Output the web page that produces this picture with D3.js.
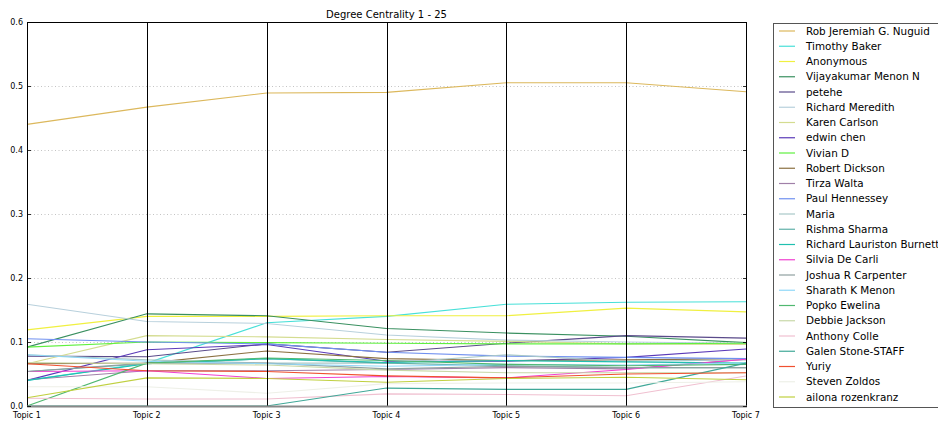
<!DOCTYPE html>
<html>
<head>
<meta charset="utf-8">
<script src="https://cdn.jsdelivr.net/npm/d3@7"></script>
<style>
  body { margin: 0; background: #fff; }
  text { font-family: 'DejaVu Sans', sans-serif; fill: #000; }
</style>
</head>
<body>
<div id="chart"></div>
<script>
let topics = ['Topic 1', 'Topic 2', 'Topic 3', 'Topic 4', 'Topic 5', 'Topic 6', 'Topic 7']

let names = [
  'Rob Jeremiah G. Nuguid', 'Timothy Baker', 'Anonymous', 'Vijayakumar Menon N',
  'petehe', 'Richard Meredith', 'Karen Carlson', 'edwin chen', 'Vivian D',
  'Robert Dickson', 'Tirza Walta', 'Paul Hennessey', 'Maria', 'Rishma Sharma',
  'Richard Lauriston Burnett', 'Silvia De Carli', 'Joshua R Carpenter',
  'Sharath K Menon', 'Popko Ewelina', 'Debbie Jackson', 'Anthony Colle',
  'Galen Stone-STAFF', 'Yuriy', 'Steven Zoldos', 'ailona rozenkranz'
]

let colors = [
  '#dcb85c', '#48e0d8', '#f0f040', '#3a9060', '#5a4a8a', '#b8d0dc', '#d4dc90',
  '#5a3ab8', '#60f040', '#8b7040', '#a080a8', '#7090f0', '#a8c8c8', '#60b0a8',
  '#20c0b0', '#f040d0', '#90a0a0', '#90d8f8', '#50b870', '#c8d8a8', '#f0c0d0',
  '#40a898', '#f05030', '#eef0e8', '#c0d040'
]

let values = [
  [0.440, 0.467, 0.489, 0.490, 0.505, 0.505, 0.491],
  [0.040, 0.067, 0.130, 0.140, 0.159, 0.162, 0.163],
  [0.119, 0.140, 0.140, 0.141, 0.141, 0.153, 0.147],
  [0.092, 0.144, 0.141, 0.121, 0.114, 0.109, 0.099],
  [0.078, 0.077, 0.097, 0.084, 0.098, 0.110, 0.106],
  [0.159, 0.132, 0.129, 0.111, 0.103, 0.100, 0.098],
  [0.066, 0.110, 0.108, 0.104, 0.101, 0.097, 0.096],
  [0.040, 0.088, 0.096, 0.070, 0.070, 0.076, 0.089],
  [0.092, 0.100, 0.099, 0.098, 0.097, 0.097, 0.098],
  [0.066, 0.067, 0.086, 0.074, 0.071, 0.072, 0.074],
  [0.041, 0.055, 0.055, 0.057, 0.060, 0.058, 0.073],
  [0.105, 0.100, 0.097, 0.084, 0.078, 0.076, 0.074],
  [0.080, 0.072, 0.067, 0.067, 0.080, 0.070, 0.072],
  [0.054, 0.066, 0.074, 0.067, 0.063, 0.060, 0.060],
  [0.040, 0.066, 0.074, 0.068, 0.071, 0.069, 0.067],
  [0.054, 0.055, 0.043, 0.046, 0.044, 0.057, 0.073],
  [0.054, 0.067, 0.067, 0.058, 0.062, 0.060, 0.060],
  [0.080, 0.070, 0.066, 0.062, 0.065, 0.064, 0.067],
  [0.000, 0.067, 0.075, 0.071, 0.065, 0.063, 0.065],
  [0.068, 0.066, 0.064, 0.056, 0.052, 0.052, 0.052],
  [0.012, 0.011, 0.011, 0.019, 0.018, 0.016, 0.047],
  [0.000, 0.000, 0.000, 0.028, 0.026, 0.026, 0.067],
  [0.066, 0.055, 0.054, 0.047, 0.044, 0.050, 0.052],
  [0.030, 0.030, 0.020, 0.035, 0.036, 0.036, 0.038],
  [0.013, 0.044, 0.043, 0.037, 0.043, 0.045, 0.041]
]

let yTicks = [0.0, 0.1, 0.2, 0.3, 0.4, 0.5, 0.6]

let width = 938
let height = 421
let margin = { top: 22, left: 27, right: 192, bottom: 15 }

let svg = d3
  .select('#chart')
  .append('svg')
  .attr('width', width)
  .attr('height', height)

let xScale = d3.scalePoint().domain(topics).range([margin.left, width - margin.right])
let yScale = d3.scaleLinear().domain([0, 0.6]).range([height - margin.bottom, margin.top])

let x0 = margin.left
let x1 = width - margin.right
let yTop = margin.top
let yBot = height - margin.bottom

// dotted grid
svg
  .selectAll('.grid')
  .data(yTicks)
  .enter()
  .append('line')
  .attr('class', 'grid')
  .attr('x1', x0)
  .attr('x2', x1)
  .attr('y1', d => Math.round(yScale(d)) + 0.5)
  .attr('y2', d => Math.round(yScale(d)) + 0.5)
  .attr('stroke', '#aaa')
  .attr('stroke-width', 0.7)
  .attr('stroke-dasharray', '1,2.5')

let line = d3
  .line()
  .x((d, i) => xScale(topics[i]))
  .y(d => yScale(d))

svg
  .selectAll('.person')
  .data(values)
  .enter()
  .append('path')
  .attr('class', 'person')
  .attr('d', line)
  .attr('fill', 'none')
  .attr('stroke', (d, i) => colors[i])
  .attr('stroke-width', 1.1)

// vertical axes for each topic
svg
  .selectAll('.vaxis')
  .data(topics)
  .enter()
  .append('line')
  .attr('class', 'vaxis')
  .attr('x1', d => Math.round(xScale(d)) + 0.5)
  .attr('x2', d => Math.round(xScale(d)) + 0.5)
  .attr('y1', yTop)
  .attr('y2', yBot)
  .attr('stroke', '#000')
  .attr('stroke-width', 1)

// frame
svg
  .append('rect')
  .attr('x', x0 + 0.5)
  .attr('y', yTop + 0.5)
  .attr('width', x1 - x0)
  .attr('height', yBot - yTop)
  .attr('fill', 'none')
  .attr('stroke', '#000')
  .attr('stroke-width', 1)

svg
  .append('line')
  .attr('x1', x0)
  .attr('x2', x1 + 1)
  .attr('y1', yBot + 0.5)
  .attr('y2', yBot + 0.5)
  .attr('stroke', '#888')
  .attr('stroke-width', 2)

// y ticks, inside both sides
svg
  .selectAll('.ytick')
  .data(yTicks)
  .enter()
  .append('path')
  .attr('class', 'ytick')
  .attr('d', d => {
    let y = Math.round(yScale(d)) + 0.5
    return `M${x0},${y}h4M${x1 + 1},${y}h-4`
  })
  .attr('stroke', '#000')
  .attr('stroke-width', 0.8)

svg
  .selectAll('.ylabel')
  .data(yTicks)
  .enter()
  .append('text')
  .attr('class', 'ylabel')
  .attr('x', x0 - 4)
  .attr('y', d => yScale(d) + 3)
  .attr('text-anchor', 'end')
  .attr('font-size', 8)
  .text(d => d3.format('.1f')(d))

svg
  .selectAll('.xlabel')
  .data(topics)
  .enter()
  .append('text')
  .attr('class', 'xlabel')
  .attr('x', d => xScale(d))
  .attr('y', yBot + 12)
  .attr('text-anchor', 'middle')
  .attr('font-size', 8)
  .text(d => d)

svg
  .append('text')
  .attr('x', (x0 + x1) / 2)
  .attr('y', yTop - 4)
  .attr('text-anchor', 'middle')
  .attr('font-size', 10)
  .text('Degree Centrality 1 - 25')

// legend
let legend = svg.append('g').attr('transform', 'translate(773,23)')

legend
  .append('rect')
  .attr('x', 0.5)
  .attr('y', 0.5)
  .attr('width', 180)
  .attr('height', 384)
  .attr('fill', '#fff')
  .attr('stroke', '#555')
  .attr('stroke-width', 1)

let items = legend
  .selectAll('.item')
  .data(names)
  .enter()
  .append('g')
  .attr('class', 'item')
  .attr('transform', (d, i) => `translate(0,${8 + i * 15.25})`)

items
  .append('line')
  .attr('x1', 6)
  .attr('x2', 22)
  .attr('y1', 0)
  .attr('y2', 0)
  .attr('stroke', (d, i) => colors[i])
  .attr('stroke-width', 1.2)

items
  .append('text')
  .attr('x', 33)
  .attr('y', 3.6)
  .attr('font-size', 10.4)
  .text(d => d)
</script>
</body>
</html>
